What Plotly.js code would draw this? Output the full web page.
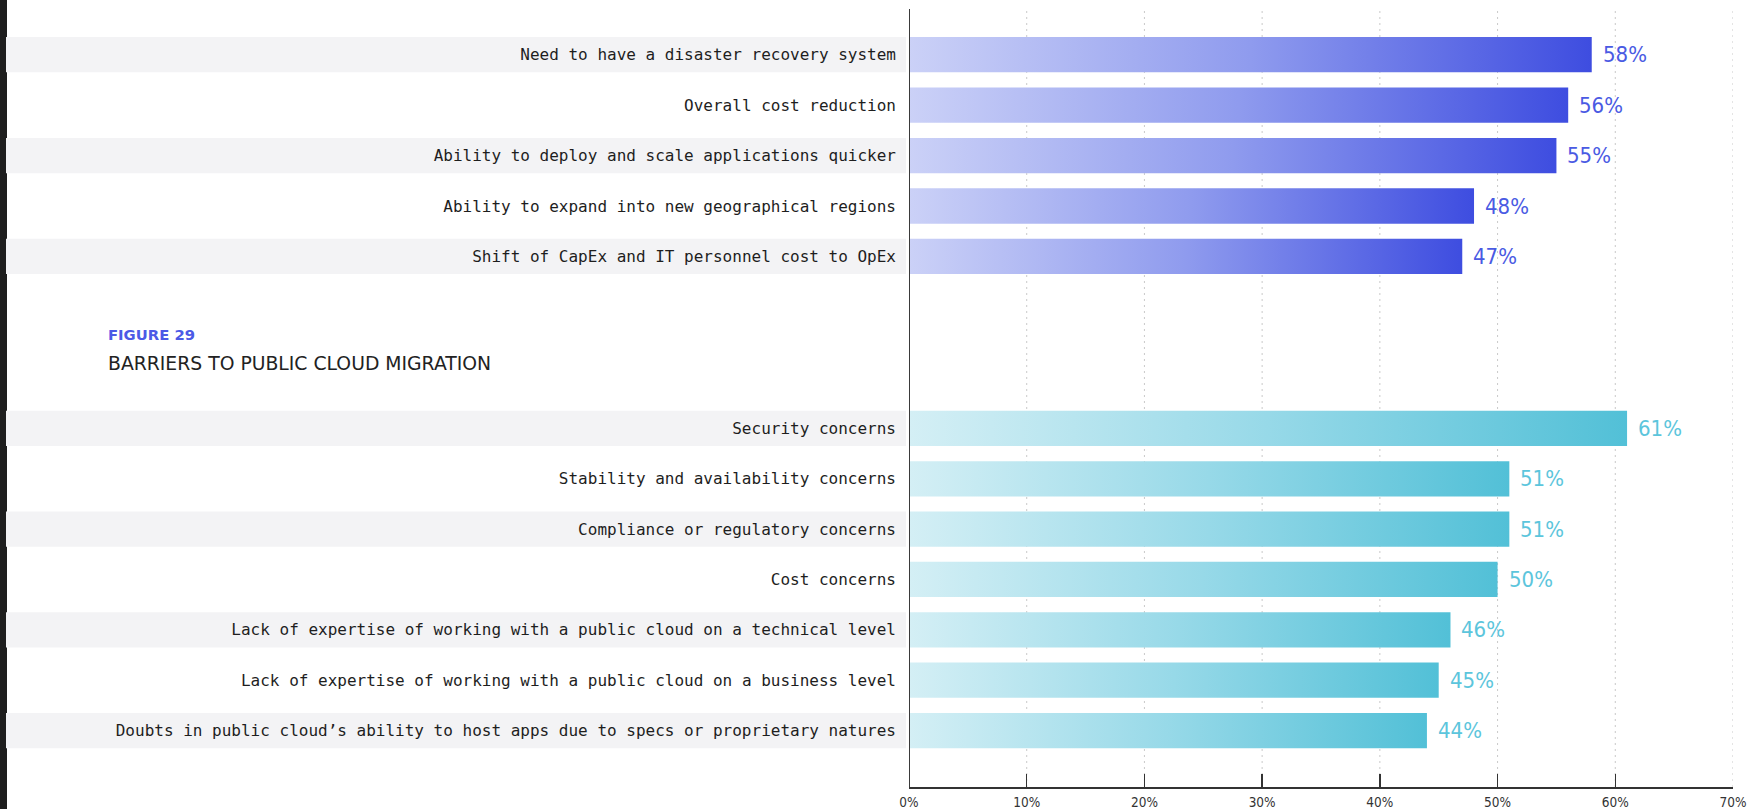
<!DOCTYPE html>
<html>
<head>
<meta charset="utf-8">
<script src="https://cdn.plot.ly/plotly-3.0.1.min.js"></script>
<style>
  html, body { margin: 0; padding: 0; background: #ffffff; }
  #chart { width: 1758px; height: 809px; }
</style>
</head>
<body>
<svg width="0" height="0" style="position:absolute">
  <defs>
    <linearGradient id="gradTop" x1="0" y1="0" x2="1" y2="0">
      <stop offset="0" stop-color="#cbd1f7"/>
      <stop offset="0.5" stop-color="#8f9bee"/>
      <stop offset="1" stop-color="#3e4de0"/>
    </linearGradient>
    <linearGradient id="gradBottom" x1="0" y1="0" x2="1" y2="0">
      <stop offset="0" stop-color="#d4eff5"/>
      <stop offset="0.5" stop-color="#97d9e8"/>
      <stop offset="1" stop-color="#52c0d7"/>
    </linearGradient>
  </defs>
</svg>
<div id="chart"></div>
<script>
// ---- data ----
const driverLabels = [
  "Need to have a disaster recovery system",
  "Overall cost reduction",
  "Ability to deploy and scale applications quicker",
  "Ability to expand into new geographical regions",
  "Shift of CapEx and IT personnel cost to OpEx"
];
const driverValues = [58, 56, 55, 48, 47];

const barrierLabels = [
  "Security concerns",
  "Stability and availability concerns",
  "Compliance or regulatory concerns",
  "Cost concerns",
  "Lack of expertise of working with a public cloud on a technical level",
  "Lack of expertise of working with a public cloud on a business level",
  "Doubts in public cloud\u2019s ability to host apps due to specs or proprietary natures"
];
const barrierValues = [61, 51, 51, 50, 46, 45, 44];

const xTickValues = [0, 10, 20, 30, 40, 50, 60, 70];
const xTickText = ["0%", "10%", "20%", "30%", "40%", "50%", "60%", "70%"];
const figureLabel = "FIGURE 29";
const figureTitle = "BARRIERS TO PUBLIC CLOUD MIGRATION";

// ---- styling ----
const MONO = '"DejaVu Sans Mono", "Liberation Mono", monospace';
const DISPLAY = '"DejaVu Sans Condensed", "Liberation Sans Narrow", Roboto, sans-serif';
const HEAD = '"DejaVu Sans", Roboto, sans-serif';
const topTextColor = "#4a5ae3";
const bottomTextColor = "#5cc5dc";

const traces = [
  {
    type: "bar", orientation: "h",
    x: driverValues, y: driverLabels,
    xaxis: "x", yaxis: "y",
    marker: { color: "#8f9bee", line: { width: 0 } },
    hoverinfo: "skip"
  },
  {
    type: "bar", orientation: "h",
    x: barrierValues, y: barrierLabels,
    xaxis: "x", yaxis: "y2",
    marker: { color: "#97d9e8", line: { width: 0 } },
    hoverinfo: "skip"
  }
];

const shapes = [];
// left dark strip
shapes.push({ type: "rect", xref: "paper", yref: "paper",
  x0: -909 / 824, x1: (7 - 909) / 824, y0: -0.03, y1: 1.02,
  fillcolor: "#1e1e1e", line: { width: 0 }, layer: "below" });
// alternating label bands
function addBands(labels, yref) {
  labels.forEach((lab, i) => {
    if (i % 2 === 0) {
      shapes.push({ type: "rect", xref: "paper", yref: yref,
        x0: (6 - 909) / 824, x1: (906 - 909) / 824,
        y0: i - 0.35, y1: i + 0.35,
        fillcolor: "#f3f3f5", line: { width: 0 }, layer: "below" });
    }
  });
}
addBands(driverLabels, "y");
addBands(barrierLabels, "y2");
// dotted gridlines spanning both panels
xTickValues.slice(1).forEach(v => {
  shapes.push({ type: "line", xref: "x", yref: "paper",
    x0: v, x1: v, y0: 0, y1: 1,
    line: { color: "#c9c9c9", width: 1, dash: "2px,4px" }, layer: "below" });
});
// vertical axis line
shapes.push({ type: "line", xref: "x", yref: "paper",
  x0: 0, x1: 0, y0: 0, y1: 1,
  line: { color: "#3a3a3a", width: 2 }, layer: "above" });

const annotations = [];
driverLabels.forEach((lab, i) => {
  annotations.push({ x: driverValues[i], y: lab, xref: "x", yref: "y",
    text: driverValues[i] + "%", showarrow: false, xanchor: "left", yanchor: "middle",
    xshift: 9, font: { family: DISPLAY, size: 22, color: topTextColor } });
});
barrierLabels.forEach((lab, i) => {
  annotations.push({ x: barrierValues[i], y: lab, xref: "x", yref: "y2",
    text: barrierValues[i] + "%", showarrow: false, xanchor: "left", yanchor: "middle",
    xshift: 9, font: { family: DISPLAY, size: 22, color: bottomTextColor } });
});
annotations.push({ x: (106 - 909) / 824, y: (787 - 334.5) / 778, xref: "paper", yref: "paper",
  text: figureLabel, showarrow: false, xanchor: "left", yanchor: "middle",
  font: { family: HEAD, size: 14.8, color: "#4b5ae6", weight: "bold" } });
annotations.push({ x: (106 - 909) / 824, y: (787 - 363.5) / 778, xref: "paper", yref: "paper",
  text: figureTitle, showarrow: false, xanchor: "left", yanchor: "middle",
  font: { family: HEAD, size: 18.8, color: "#222222" } });

const yCommon = {
  type: "category",
  autorange: false,
  showline: false, showgrid: false, zeroline: false,
  ticks: "",
  ticklabelstandoff: 12,
  tickfont: { family: MONO, size: 16, color: "#1e1e1e" },
  fixedrange: true
};

const layout = {
  width: 1758, height: 809,
  margin: { l: 909, r: 25, t: 9, b: 22, pad: 0 },
  paper_bgcolor: "#ffffff", plot_bgcolor: "rgba(0,0,0,0)",
  showlegend: false,
  bargap: 0.3,
  xaxis: {
    range: [0, 70], autorange: false,
    tickmode: "array", tickvals: xTickValues, ticktext: xTickText,
    ticks: "inside", ticklen: 13, tickwidth: 1.5, tickcolor: "#333333",
    showline: true, linecolor: "#333333", linewidth: 2,
    showgrid: false, zeroline: false,
    anchor: "y2",
    ticklabelstandoff: 2,
    tickfont: { family: DISPLAY, size: 13.5, color: "#333333" },
    fixedrange: true
  },
  yaxis: Object.assign({}, yCommon, {
    domain: [0.6495, 1],
    range: [4.5, -0.906],
    categoryorder: "array", categoryarray: driverLabels,
    anchor: "x"
  }),
  yaxis2: Object.assign({}, yCommon, {
    domain: [0, 0.4932],
    range: [7.122, -0.5],
    categoryorder: "array", categoryarray: barrierLabels,
    anchor: "x"
  }),
  shapes: shapes,
  annotations: annotations
};

Plotly.newPlot("chart", traces, layout, { staticPlot: true, displayModeBar: false }).then(gd => {
  gd.querySelectorAll("g.trace.bars").forEach(g => {
    const cd = g.__data__;
    const idx = cd && cd[0] && cd[0].trace ? cd[0].trace.index : 0;
    const grad = idx === 0 ? "url(#gradTop)" : "url(#gradBottom)";
    g.querySelectorAll("path").forEach(p => { p.style.fill = grad; });
  });
});
</script>
</body>
</html>
